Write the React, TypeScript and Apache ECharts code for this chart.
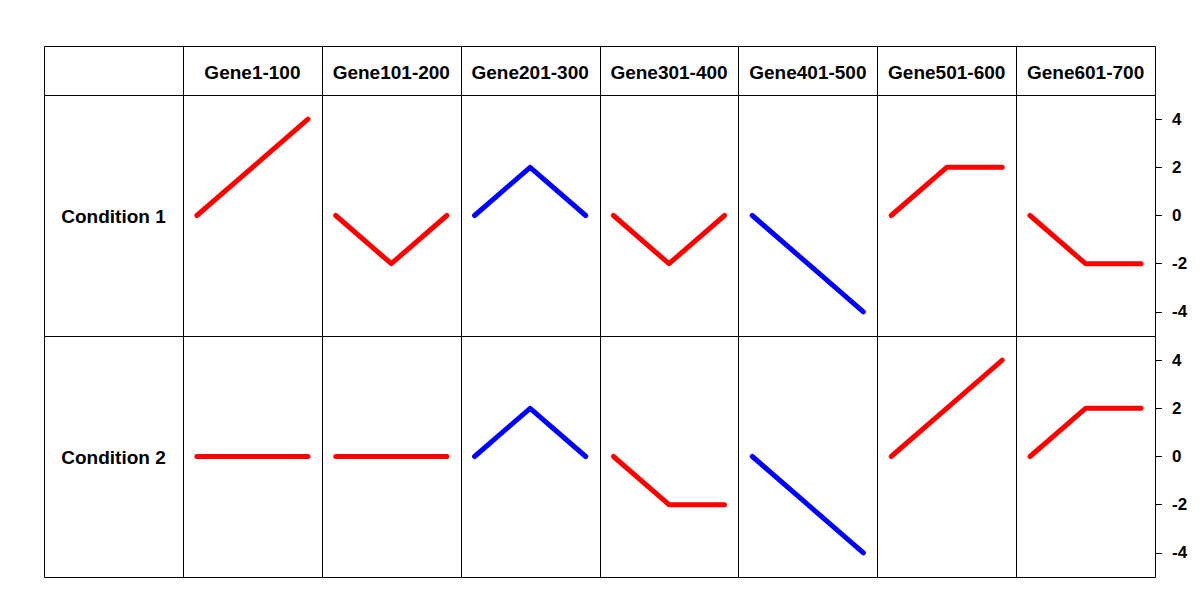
import React, { useEffect, useRef } from "react";
import * as echarts from "echarts";

const genes = ["Gene1-100", "Gene101-200", "Gene201-300", "Gene301-400", "Gene401-500", "Gene501-600", "Gene601-700"];
const conditions = ["Condition 1", "Condition 2"];
const xPoints = [1, 2, 3];
const cond1Values = [
  [0, 2, 4],
  [0, -2, 0],
  [0, 2, 0],
  [0, -2, 0],
  [0, -2, -4],
  [0, 2, 2],
  [0, -2, -2],
];
const cond2Values = [
  [0, 0, 0],
  [0, 0, 0],
  [0, 2, 0],
  [0, -2, -2],
  [0, -2, -4],
  [0, 2, 4],
  [0, 2, 2],
];
const cond1Colors = ["red", "red", "blue", "red", "blue", "red", "red"];
const cond2Colors = ["red", "red", "blue", "red", "blue", "red", "red"];
const yTicks = [-4, -2, 0, 2, 4];

const COLOR: Record<string, string> = { red: "#FF0000", blue: "#0000FF" };

export default function App() {
  const ref = useRef<HTMLDivElement>(null);
  useEffect(() => {
    if (!ref.current) return;
    const chart = echarts.init(ref.current, null, { renderer: "svg" });
    const left0 = 183;
    const right = 1155;
    const cw = (right - left0) / genes.length;
    const headTop = 46;
    const rowTop = 95;
    const rh = 241;
    const bottom = rowTop + 2 * rh;
    const font = "'Liberation Sans', Arial, sans-serif";

    const grids: any[] = [];
    const xAxes: any[] = [];
    const yAxes: any[] = [];
    const series: any[] = [];
    const rows = [cond1Values, cond2Values];
    const colors = [cond1Colors, cond2Colors];
    let idx = 0;
    rows.forEach((rowVals, r) => {
      rowVals.forEach((vals, c) => {
        const isLast = c === genes.length - 1;
        grids.push({
          left: left0 + c * cw,
          top: rowTop + r * rh,
          width: cw,
          height: rh,
          show: false,
        });
        xAxes.push({
          type: "value",
          gridIndex: idx,
          min: 0.75,
          max: 3.25,
          show: false,
        });
        yAxes.push({
          type: "value",
          gridIndex: idx,
          min: -5,
          max: 5,
          position: "right",
          show: isLast,
          splitLine: { show: false },
          axisLine: { show: false },
          axisTick: {
            show: isLast,
            length: 7,
            customValues: yTicks,
            lineStyle: { color: "#000", width: 1 },
          },
          axisLabel: {
            show: isLast,
            customValues: yTicks,
            margin: 17,
            color: "#000",
            fontWeight: "bold",
            fontSize: 17,
            fontFamily: font,
          },
        });
        series.push({
          type: "line",
          xAxisIndex: idx,
          yAxisIndex: idx,
          data: xPoints.map((x, i) => [x, vals[i]]),
          symbol: "none",
          lineStyle: { color: COLOR[colors[r][c]], width: 5, cap: "round", join: "round" },
          z: 5,
        });
        idx++;
      });
    });

    const graphic: any[] = [];
    graphic.push({
      type: "rect",
      shape: { x: 44.5, y: headTop + 0.5, width: right - 44, height: bottom - headTop },
      style: { fill: "none", stroke: "#000", lineWidth: 1 },
      z: 10,
    });
    [rowTop, rowTop + rh].forEach((y) => {
      graphic.push({
        type: "line",
        shape: { x1: 44, y1: y + 0.5, x2: right, y2: y + 0.5 },
        style: { stroke: "#000", lineWidth: 1 },
        z: 10,
      });
    });
    for (let c = 0; c < genes.length; c++) {
      const x = Math.round(left0 + c * cw) + 0.5;
      graphic.push({
        type: "line",
        shape: { x1: x, y1: headTop, x2: x, y2: bottom },
        style: { stroke: "#000", lineWidth: 1 },
        z: 10,
      });
    }
    genes.forEach((g, c) => {
      graphic.push({
        type: "text",
        x: left0 + c * cw + cw / 2,
        y: (headTop + rowTop) / 2 + 2,
        style: {
          text: g,
          fill: "#000",
          font: `bold 19px ${font}`,
          textAlign: "center",
          textVerticalAlign: "middle",
        },
        z: 10,
      });
    });
    conditions.forEach((cname, r) => {
      graphic.push({
        type: "text",
        x: (44 + left0) / 2,
        y: rowTop + r * rh + rh / 2 + 1,
        style: {
          text: cname,
          fill: "#000",
          font: `bold 19px ${font}`,
          textAlign: "center",
          textVerticalAlign: "middle",
        },
        z: 10,
      });
    });

    chart.setOption({
      animation: false,
      backgroundColor: "#fff",
      grid: grids,
      xAxis: xAxes,
      yAxis: yAxes,
      series,
      graphic,
    });
    return () => chart.dispose();
  }, []);
  return (
    <div
      ref={ref}
      style={{ position: "fixed", left: 0, top: 0, width: 1200, height: 600, background: "#fff" }}
    />
  );
}
